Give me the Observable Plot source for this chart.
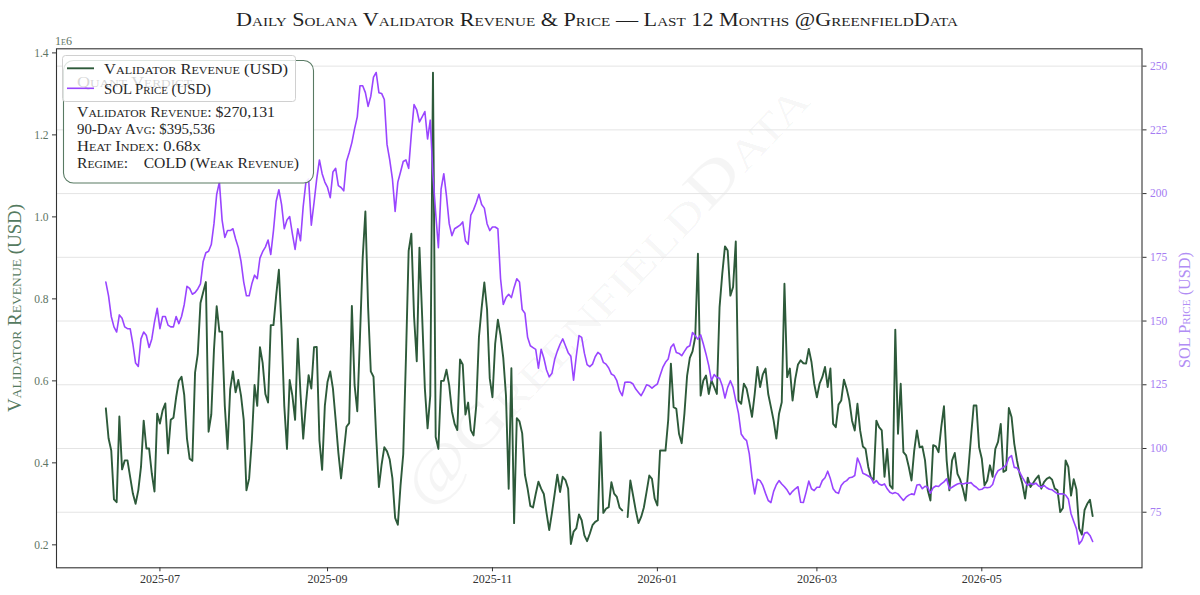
<!DOCTYPE html>
<html><head><meta charset="utf-8">
<script src="https://cdn.jsdelivr.net/npm/d3@7"></script>
<script src="https://cdn.jsdelivr.net/npm/@observablehq/plot@0.6"></script>
<style>
html,body{margin:0;padding:0;background:#fff;}
#chart{width:1200px;height:595px;position:relative;overflow:hidden;}
svg text{font-variant:small-caps;}
</style></head><body><div id="chart"></div>
<script>
// ---------- data ----------
const startDate = "2025-06-11";           // first daily observation
// Validator revenue, USD millions (1e6)
const revenueM = [
0.533,0.46,0.43,0.311,0.304,0.513,0.384,0.406,0.406,0.365,
0.325,0.30,0.333,0.39,0.503,0.435,0.435,0.374,0.33,0.52,
0.496,0.528,0.545,0.423,0.505,0.51,0.56,0.60,0.61,0.565,
0.46,0.41,0.405,0.62,0.665,0.79,0.816,0.841,0.476,0.518,
0.677,0.782,0.72,0.72,0.539,0.434,0.58,0.623,0.572,0.602,
0.564,0.505,0.333,0.362,0.455,0.59,0.539,0.682,0.644,0.568,
0.547,0.736,0.736,0.808,0.871,0.724,0.539,0.434,0.602,0.564,
0.505,0.703,0.568,0.459,0.543,0.614,0.581,0.682,0.683,0.455,
0.383,0.539,0.598,0.623,0.581,0.505,0.425,0.362,0.425,0.488,
0.497,0.783,0.59,0.526,0.707,0.9,1.013,0.78,0.623,0.61,
0.463,0.341,0.396,0.438,0.428,0.408,0.362,0.266,0.249,0.345,
0.421,0.656,0.917,0.959,0.757,0.648,0.925,0.757,0.581,0.484,
0.564,1.352,0.463,0.434,0.60,0.60,0.627,0.589,0.526,0.495,
0.48,0.652,0.64,0.518,0.547,0.48,0.467,0.539,0.707,0.778,
0.84,0.774,0.606,0.56,0.69,0.749,0.711,0.656,0.564,0.337,
0.631,0.253,0.509,0.501,0.472,0.371,0.337,0.295,0.291,0.324,
0.354,0.337,0.324,0.278,0.236,0.278,0.324,0.371,0.329,0.366,
0.358,0.337,0.202,0.232,0.24,0.274,0.26,0.223,0.209,0.227,
0.248,0.256,0.26,0.475,0.278,0.288,0.292,0.353,0.325,0.317,
0.291,0.284,null,0.268,0.357,0.321,0.284,0.253,0.268,0.291,
0.329,0.369,0.361,0.313,0.296,0.43,0.43,0.43,0.504,0.642,
0.536,0.532,0.471,0.448,0.52,0.613,0.656,0.672,0.707,0.91,
0.564,0.601,0.613,0.568,0.601,0.585,0.568,0.78,0.861,0.928,
0.918,0.808,0.829,0.94,0.552,0.544,0.593,0.581,0.548,0.512,
0.568,0.634,0.585,0.616,0.63,0.568,0.536,0.503,0.459,0.52,
0.548,0.837,0.609,0.63,0.552,0.605,0.64,0.65,0.643,0.642,
0.678,0.646,0.593,0.56,0.593,0.609,0.634,0.585,0.63,0.495,
0.487,0.542,0.552,0.603,0.581,0.552,0.503,0.479,0.544,0.479,
0.44,0.434,0.39,0.364,0.359,0.503,0.487,0.479,0.366,0.434,
0.345,0.337,0.725,0.471,0.593,0.426,0.418,0.39,0.357,0.43,
0.479,0.438,0.44,0.406,0.333,0.308,0.443,0.44,0.426,0.487,
0.538,0.406,0.333,0.406,0.424,0.373,0.359,0.337,0.308,0.382,
0.463,0.54,0.54,0.438,0.41,0.345,0.357,0.394,0.366,0.434,
0.451,0.495,0.378,0.382,0.534,0.512,0.447,0.406,0.373,0.349,
0.313,0.364,0.341,0.351,0.361,0.369,0.337,0.353,0.361,0.365,
0.359,0.337,0.333,0.28,0.29,0.406,0.39,0.32,0.36,0.335,
0.24,0.225,0.285,0.30,0.31,0.270131
];
// SOL price, USD
const solPrice = [
165.3,159.9,151.8,147.7,145.7,152.4,151.1,147.7,147,147,
141,133.5,132.2,143,145.7,144.3,139.6,143,149.7,155,
147,151.8,151.8,148.4,147.7,147.7,151.8,149,151.8,156.5,
163.6,162.8,160.5,161.2,162.6,164.6,173.4,176.8,177.4,180,
188.2,199.7,204.5,189.6,182.8,185.5,185.5,186.2,182.2,178.8,
173.4,165.3,159.9,159.9,164.6,168,166.6,174.7,177.2,179,
181.8,176.1,185.5,197,201.5,195.7,186.2,189.6,191,184.2,
178.1,186.2,181.5,195,204.5,205.8,187.6,196.4,205.8,213.2,
207.8,204.5,202.4,198.4,208.5,209.9,203.1,202.4,201.1,212.6,
216,220,225.4,230.1,242.3,242.3,239.6,234.2,238.2,245.7,
247.5,239.6,239.3,236.9,219.3,213.2,205.8,193,204.5,208.5,
212.6,213.2,209.9,223.4,234.9,232.8,228.1,230.1,232.2,221.4,
228.8,207.2,192.3,178.8,201.8,207.8,199,188.2,183.5,186.2,
186.9,187.6,188.9,181.5,180.1,191.6,193.6,196.4,199.7,195.7,
194.3,188.2,185.5,186.9,186.9,186.2,166.6,156.5,159.2,160.5,
159.2,163.2,166.6,165.3,154.5,153.1,143.6,140.3,139.6,138.9,
131.5,138.9,135.5,130.8,128.1,129.5,134.9,138.2,140.9,143,
140.3,137.6,136.2,126.8,136.2,144.3,143.6,137.4,132.9,132.1,
133.1,136,137.7,136.8,133.8,133.1,131.6,129.2,128.6,126.6,
122.7,120.7,126,126.1,126,125.3,123.3,122,120.7,122.7,
125,124.6,123.7,124.6,125.3,128.6,131.8,133.8,135.1,139.7,
141,137.7,137.3,136.4,138.1,139.7,140.3,145.5,144.2,142.9,
144.6,141,137,132.5,126.6,129,127.9,127.6,124.6,119.8,
124,126.6,124,118.8,113.8,105.7,104.1,103.1,97.9,88.7,
82.2,87.9,87.4,85.5,82.4,79.6,78.8,83.2,85.8,87.4,
86.1,85,83.7,81.9,83.2,84.2,85,78.9,78.8,82.8,
87.2,84.2,83.5,84.8,84.8,87.4,88.5,91.1,88.1,84.2,
82.8,82.4,85.5,86.8,87.4,88.5,88.7,89.4,96.3,93.7,
90.3,89.8,89.2,88.5,86.4,87.4,86.1,85.6,86.1,84.2,
82.8,82.3,82.7,82.2,80.9,79.6,80.9,81.7,82.2,81.9,
85.7,85.9,84.2,85.2,84.8,82.5,84.6,85.3,85.1,86.1,
86.9,88.1,84.2,84.8,85.5,86.1,86.4,86.1,86.4,86.4,
86.6,85.5,84.8,83.8,84,84.8,84.6,84.8,85.9,89.4,
91.3,91.9,92.6,93.5,96.3,97.2,92.6,92.4,90.7,88.7,
86.9,85.5,86.4,85.9,86.4,85.3,84.8,85.5,84.6,84,
83.8,83,82.2,82.2,82.2,81.7,80.2,74.4,71.4,68.5,
62.5,63.9,66.8,67.1,65.9,63.5
];
const leftTicks = [0.2, 0.4, 0.6, 0.8, 1.0, 1.2, 1.4];
const rightTicks = [75, 100, 125, 150, 175, 200, 225, 250];
const monthTicks = ["2025-07-01", "2025-09-01", "2025-11-01", "2026-01-01", "2026-03-01", "2026-05-01"];
const titleText = "Daily Solana Validator Revenue & Price — Last 12 Months @GreenfieldData";
const seriesLabels = ["Validator Revenue (USD)", "SOL Price (USD)"];
const verdictTitle = "Quant Verdict";
const verdictLines = ["Validator Revenue: $270,131", "90-Day Avg: $395,536", "Heat Index: 0.68x", "Regime:    COLD (Weak Revenue)"];
const watermarkText = "@GreenfieldData";

// ---------- styling ----------
const FONT = "'Liberation Serif', 'DejaVu Serif', serif";
const GREEN = "#2d5a3a";
const PURPLE = "#9945ff";
const LEFT_TICK = "#5e7564";
const LEFT_LABEL = "#557a60";
const RIGHT_TICK = "#a57cf2";
const RIGHT_LABEL = "#b18df4";

const parse = d3.utcParse("%Y-%m-%d");
const start = parse(startDate);
const rows = revenueM.map((v, i) => ({date: d3.utcDay.offset(start, i), rev: v, price: solPrice[i]}));

const yLeft = [0.144, 1.41];
const yRight = [53.2, 256.8];
const toY = d3.scaleLinear().domain(yRight).range(yLeft);
const xDomain = [d3.utcHour.offset(start, -18.25 * 24), d3.utcHour.offset(d3.utcDay.offset(start, revenueM.length - 1), 18.25 * 24)];

const plot = Plot.plot({
  width: 1200, height: 595,
  marginLeft: 56, marginRight: 58.5, marginTop: 48.3, marginBottom: 27.7,
  style: {fontFamily: FONT, fontSize: "12px", background: "#fff", overflow: "visible"},
  x: {type: "utc", domain: xDomain},
  y: {domain: yLeft},
  marks: [
    Plot.gridY(rightTicks.map(toY), {stroke: "#e4e4e4", strokeOpacity: 1, strokeWidth: 1}),
    Plot.lineY(rows, {x: "date", y: "rev", stroke: GREEN, strokeWidth: 1.9}),
    Plot.lineY(rows, {x: "date", y: d => toY(d.price), stroke: PURPLE, strokeWidth: 1.6}),
    Plot.frame({stroke: "#333", strokeWidth: 1.1}),
    Plot.axisX(monthTicks.map(parse), {tickFormat: d3.utcFormat("%Y-%m"), tickSize: 4, tickPadding: 3, stroke: "#333", fill: "#333", fontSize: 12, label: null}),
    Plot.axisY(leftTicks, {anchor: "left", tickSize: 4, tickPadding: 4, tickFormat: d => d.toFixed(1), stroke: "#333", fill: LEFT_TICK, fontSize: 11.5, label: null}),
    Plot.axisY(rightTicks.map(toY), {anchor: "right", tickSize: 4, tickPadding: 4, tickFormat: d => String(Math.round(toY.invert(d))), stroke: "#333", fill: RIGHT_TICK, fontSize: 11.5, label: null})
  ]
});
document.getElementById("chart").appendChild(plot);

// ---------- decorations ----------
const svg = d3.select(plot);
function addText(parent, o) {
  const t = parent.append("text")
    .attr("x", o.x).attr("y", o.y)
    .attr("fill", o.fill || "#222")
    .attr("font-family", FONT)
    .attr("font-size", o.size)
    .attr("text-anchor", o.anchor || "start")
    .style("font-variant", "small-caps")
    .style("white-space", "pre")
    .text(o.text);
  if (o.length) t.attr("textLength", o.length).attr("lengthAdjust", "spacingAndGlyphs");
  if (o.transform) t.attr("transform", o.transform);
  if (o.opacity != null) t.attr("fill-opacity", o.opacity);
  return t;
}
// watermark behind everything
const wm = svg.insert("g", ":first-child");
addText(wm, {x: 0, y: 20, text: watermarkText, size: 58, fill: "#000", opacity: 0.04, anchor: "middle", length: 560, transform: "translate(605,292) rotate(-46.5)"});

// title
addText(svg, {x: 597, y: 26, text: titleText, size: 19, fill: "#1f1f1f", anchor: "middle", length: 722});
// offset label
addText(svg, {x: 55, y: 45, text: "1e6", size: 12, fill: LEFT_TICK, length: 17});
// axis labels
addText(svg, {x: 0, y: 0, text: seriesLabels[0], size: 18, fill: LEFT_LABEL, anchor: "middle", length: 208, transform: "translate(21,308) rotate(-90)"});
addText(svg, {x: 0, y: 0, text: seriesLabels[1], size: 16, fill: RIGHT_LABEL, anchor: "middle", length: 116, transform: "translate(1190,310) rotate(-90)"});

// verdict box
const vb = svg.append("g");
vb.append("rect").attr("x", 63.5).attr("y", 60.5).attr("width", 250).attr("height", 122.5).attr("rx", 10)
  .attr("fill", "#fff").attr("fill-opacity", 0.9).attr("stroke", "#587a63").attr("stroke-width", 1.1);
addText(vb, {x: 77, y: 87, text: verdictTitle, size: 15, fill: "#333", length: 115});
const vLens = [198, 138, 124, 222];
const vYs = [117, 133.5, 150.5, 168];
verdictLines.forEach((t, i) => addText(vb, {x: 77, y: vYs[i], text: t, size: 15, fill: "#262626", length: vLens[i]}));

// legend
const lg = svg.append("g");
lg.append("rect").attr("x", 62.5).attr("y", 55.5).attr("width", 233).attr("height", 46).attr("rx", 3)
  .attr("fill", "#fff").attr("fill-opacity", 0.8).attr("stroke", "#d0d0d0").attr("stroke-width", 1);
const lColors = [GREEN, PURPLE];
const lYs = [68.3, 88.3];
const lLens = [184, 107];
seriesLabels.forEach((t, i) => {
  lg.append("line").attr("x1", 67).attr("x2", 94).attr("y1", lYs[i]).attr("y2", lYs[i])
    .attr("stroke", lColors[i]).attr("stroke-width", i ? 1.6 : 1.9);
  addText(lg, {x: 104, y: lYs[i] + 6, text: t, size: 15, fill: "#262626", length: lLens[i]});
});
</script></body></html>
